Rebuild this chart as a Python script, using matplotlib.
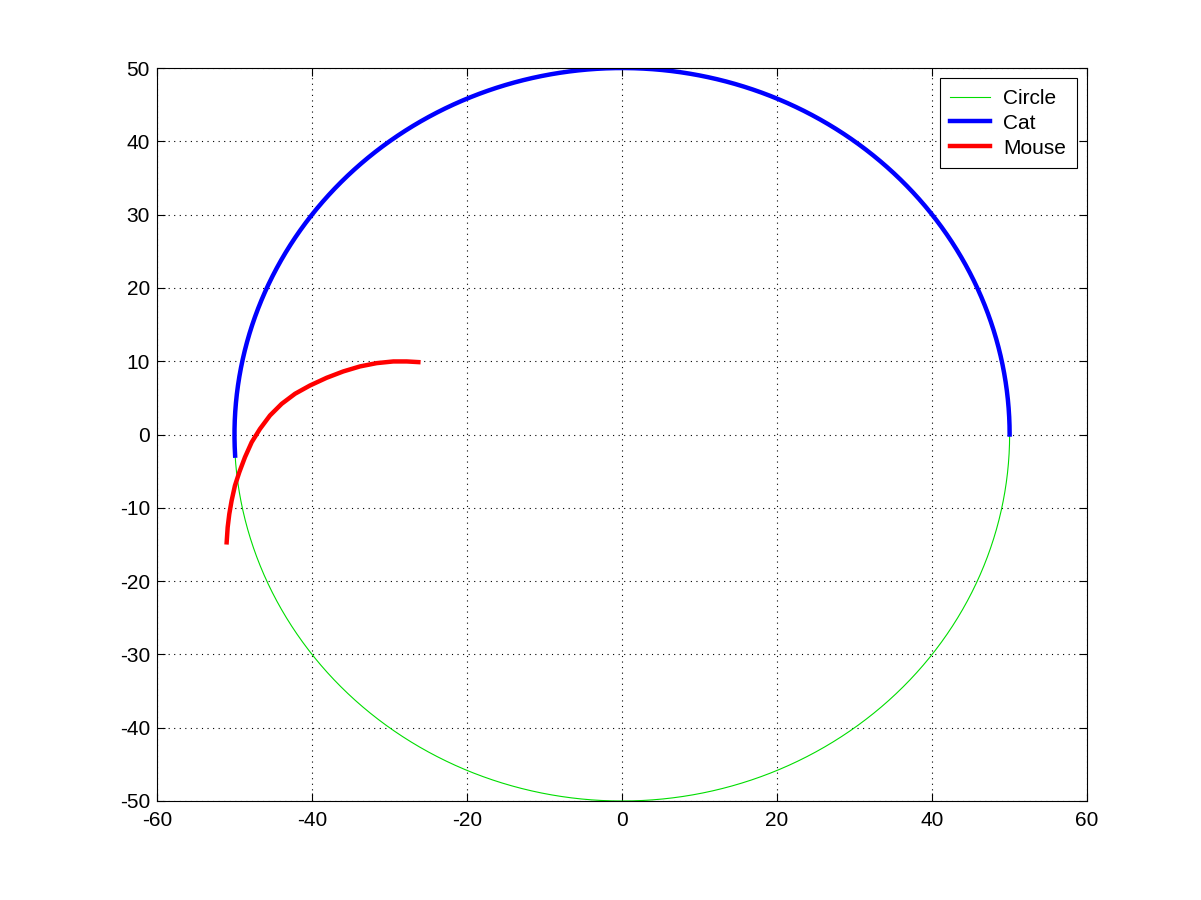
import numpy as np
import matplotlib
matplotlib.use('Agg')
import matplotlib.pyplot as plt

plt.rcParams['font.family'] = ['Liberation Sans', 'DejaVu Sans']
plt.rcParams['axes.unicode_minus'] = False

# circle of radius 50, cat runs along it from 0 deg to ~183 deg
radius = 50
cat_start_deg = 0
cat_end_deg = 183.3

# mouse path
mouse_x = [-51.01, -50.88, -50.67, -50.37, -49.94, -49.38, -48.65, -47.78, -46.71, -45.42,
           -43.91, -42.19, -40.26, -38.11, -35.96, -33.81, -31.66, -29.51, -27.78, -26.28]
mouse_y = [-14.71, -12.66, -10.84, -9.02, -6.97, -5.15, -3.10, -1.05, 0.77, 2.60,
           4.19, 5.56, 6.69, 7.74, 8.61, 9.29, 9.74, 9.97, 9.97, 9.88]

xticks = [-60, -40, -20, 0, 20, 40, 60]
yticks = [-50, -40, -30, -20, -10, 0, 10, 20, 30, 40, 50]

t = np.linspace(0, 2 * np.pi, 721)
circle_x = radius * np.cos(t)
circle_y = radius * np.sin(t)
tc = np.radians(np.linspace(cat_start_deg, cat_end_deg, 400))
cat_x = radius * np.cos(tc)
cat_y = radius * np.sin(tc)

fig = plt.figure(figsize=(12.01, 9), dpi=100)
ax = fig.add_axes([0.1307, 0.11, 0.7745, 0.8144])

ax.plot(circle_x, circle_y, color='#00dd00', linewidth=0.8, label='Circle')
ax.plot(cat_x, cat_y, color='#0000ff', linewidth=3.2, label='Cat')
ax.plot(mouse_x, mouse_y, color='#ff0000', linewidth=3.2, label='Mouse',
        solid_joinstyle='round')

ax.set_xlim(-60, 60)
ax.set_ylim(-50, 50)
ax.set_xticks(xticks)
ax.set_yticks(yticks)
ax.tick_params(direction='in', labelsize=15, length=6, top=True, right=True,
               labeltop=False, labelright=False)
ax.tick_params(axis='x', pad=7)
ax.tick_params(axis='y', pad=5)
ax.grid(True, color='black', linestyle=(0, (1, 4)), linewidth=0.8)
for s in ax.spines.values():
    s.set_linewidth(0.8)

leg = ax.legend(loc='upper right', fontsize=15, fancybox=False, framealpha=1,
                edgecolor='black', handlelength=1.9, borderpad=0.5,
                labelspacing=0.28, borderaxespad=0.5, handletextpad=0.65)
leg.get_frame().set_linewidth(0.8)

fig.savefig('out.png', dpi=100)
